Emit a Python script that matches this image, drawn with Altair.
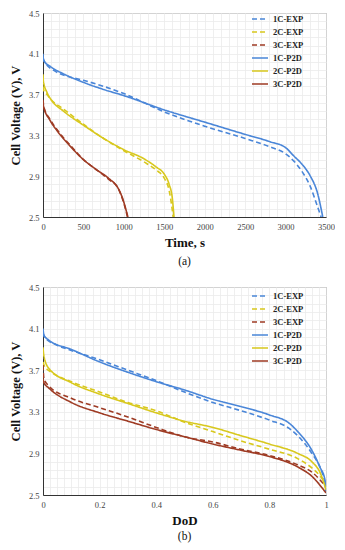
import altair as alt
import pandas as pd

FONT = "Liberation Serif"

series_names = ["1C-EXP", "2C-EXP", "3C-EXP", "1C-P2D", "2C-P2D", "3C-P2D"]
series_colors = ["#4a86d8", "#d8c81e", "#9e3b24", "#4a86d8", "#d8c81e", "#9e3b24"]

# ---- Panel (a): voltage vs time ----
t_1c_exp = [0, 20, 150, 300, 500, 1000, 1500, 2000, 2500, 2800, 3000, 3100, 3200, 3300, 3400, 3440]
v_1c_exp = [4.06, 4.02, 3.93, 3.88, 3.84, 3.71, 3.53, 3.39, 3.27, 3.19, 3.12, 3.05, 2.95, 2.81, 2.59, 2.50]
t_2c_exp = [0, 10, 50, 100, 250, 500, 750, 1000, 1250, 1400, 1500, 1560, 1590, 1610]
v_2c_exp = [3.78, 3.74, 3.70, 3.65, 3.56, 3.41, 3.27, 3.15, 3.04, 2.96, 2.88, 2.76, 2.62, 2.50]
t_3c_exp = [0, 10, 85, 170, 250, 330, 490, 650, 810, 930, 990, 1030, 1045]
v_3c_exp = [3.65, 3.58, 3.46, 3.36, 3.28, 3.21, 3.07, 2.97, 2.87, 2.78, 2.66, 2.55, 2.50]
t_1c_p2d = [0, 5, 100, 250, 500, 750, 1000, 1500, 2000, 2500, 2800, 3000, 3100, 3200, 3300, 3400, 3460]
v_1c_p2d = [4.10, 4.04, 3.97, 3.905, 3.82, 3.75, 3.69, 3.55, 3.43, 3.31, 3.24, 3.18, 3.10, 3.02, 2.91, 2.72, 2.50]
t_2c_p2d = [0, 5, 50, 100, 250, 500, 750, 1000, 1250, 1400, 1500, 1560, 1600, 1620]
v_2c_p2d = [3.90, 3.83, 3.72, 3.65, 3.54, 3.40, 3.27, 3.16, 3.07, 2.99, 2.92, 2.82, 2.68, 2.50]
t_3c_p2d = [0, 5, 85, 170, 330, 490, 650, 810, 930, 990, 1030, 1050]
v_3c_p2d = [3.62, 3.59, 3.45, 3.35, 3.20, 3.07, 2.97, 2.88, 2.78, 2.67, 2.56, 2.50]

# ---- Panel (b): voltage vs DoD ----
d_1c_exp = [0, 0.005, 0.05, 0.1, 0.2, 0.3, 0.4, 0.5, 0.6, 0.7, 0.8, 0.87, 0.9, 0.95, 0.98, 1.0]
w_1c_exp = [4.06, 4.02, 3.94, 3.89, 3.80, 3.70, 3.60, 3.49, 3.39, 3.31, 3.22, 3.14, 3.07, 2.90, 2.76, 2.60]
d_2c_exp = [0, 0.005, 0.03, 0.1, 0.2, 0.3, 0.4, 0.5, 0.6, 0.7, 0.8, 0.9, 0.95, 0.98, 1.0]
w_2c_exp = [3.78, 3.74, 3.68, 3.59, 3.49, 3.39, 3.31, 3.20, 3.11, 3.02, 2.94, 2.85, 2.76, 2.68, 2.60]
d_3c_exp = [0, 0.003, 0.02, 0.1, 0.2, 0.3, 0.4, 0.5, 0.6, 0.7, 0.8, 0.9, 0.95, 1.0]
w_3c_exp = [3.75, 3.62, 3.55, 3.43, 3.34, 3.25, 3.15, 3.06, 3.01, 2.94, 2.88, 2.79, 2.72, 2.58]
d_1c_p2d = [0, 0.003, 0.02, 0.1, 0.2, 0.3, 0.4, 0.5, 0.6, 0.7, 0.8, 0.87, 0.9, 0.95, 0.98, 0.995, 1.0]
w_1c_p2d = [4.10, 4.04, 3.99, 3.90, 3.78, 3.68, 3.59, 3.51, 3.42, 3.35, 3.27, 3.19, 3.11, 2.93, 2.76, 2.66, 2.52]
d_2c_p2d = [0, 0.003, 0.02, 0.1, 0.2, 0.3, 0.4, 0.5, 0.6, 0.7, 0.8, 0.9, 0.95, 0.98, 1.0]
w_2c_p2d = [3.92, 3.84, 3.72, 3.58, 3.47, 3.38, 3.29, 3.21, 3.15, 3.07, 2.99, 2.90, 2.82, 2.71, 2.55]
d_3c_p2d = [0, 0.003, 0.02, 0.1, 0.2, 0.3, 0.4, 0.5, 0.6, 0.7, 0.8, 0.9, 0.95, 1.0]
w_3c_p2d = [3.62, 3.58, 3.53, 3.39, 3.29, 3.21, 3.13, 3.06, 2.99, 2.93, 2.87, 2.77, 2.68, 2.52]

x_ticks_a = list(range(0, 3501, 100))
x_ticks_b = [round(i * 0.025, 3) for i in range(41)]
y_ticks = [round(2.5 + i * 0.08, 2) for i in range(26)]


def frame(pairs):
    rows = []
    for name, xs, ys in pairs:
        for i, (x, y) in enumerate(zip(xs, ys)):
            rows.append({"series": name, "x": x, "v": y, "i": i})
    return pd.DataFrame(rows)


df_a = frame([
    ("1C-EXP", t_1c_exp, v_1c_exp), ("2C-EXP", t_2c_exp, v_2c_exp), ("3C-EXP", t_3c_exp, v_3c_exp),
    ("1C-P2D", t_1c_p2d, v_1c_p2d), ("2C-P2D", t_2c_p2d, v_2c_p2d), ("3C-P2D", t_3c_p2d, v_3c_p2d),
])
df_b = frame([
    ("1C-EXP", d_1c_exp, w_1c_exp), ("2C-EXP", d_2c_exp, w_2c_exp), ("3C-EXP", d_3c_exp, w_3c_exp),
    ("1C-P2D", d_1c_p2d, w_1c_p2d), ("2C-P2D", d_2c_p2d, w_2c_p2d), ("3C-P2D", d_3c_p2d, w_3c_p2d),
])

W = 283

y_axis = alt.Axis(
    values=y_ticks, title="Cell Voltage (V), V",
    labelExpr="round((datum.value-2.5)/0.08) % 5 == 0 ? toString(round(datum.value*10)/10) : ''",
    ticks=False, labelOverlap=False, minExtent=20, maxExtent=20, titlePadding=1,
    labelPadding=4,
)


def panel(df, xdom, xvals, xlabel_expr, xtitle, tag, h, tag_off, legend_y):
    legend = alt.Legend(
        title=None, orient="none", legendX=W - 72, legendY=legend_y,
        symbolType="M-1.6,0H1.6", symbolSize=100, symbolStrokeWidth=1.6,
        symbolFillColor="transparent",
        labelFont=FONT, labelFontSize=8.5, labelFontWeight="bold", labelColor="#222",
        rowPadding=2, labelOffset=7, padding=0,
    )
    lines = alt.Chart(df).mark_line(strokeWidth=1.6, interpolate="monotone", clip=True).encode(
        x=alt.X("x:Q", scale=alt.Scale(domain=xdom, nice=False, zero=False),
                axis=alt.Axis(values=xvals, labelExpr=xlabel_expr, title=xtitle, ticks=False,
                              labelOverlap=False, labelFlush=False, titlePadding=6, labelPadding=5)),
        y=alt.Y("v:Q", scale=alt.Scale(domain=[2.5, 4.5], nice=False, zero=False), axis=y_axis),
        color=alt.Color("series:N", sort=series_names,
                        scale=alt.Scale(domain=series_names, range=series_colors), legend=legend),
        strokeDash=alt.StrokeDash("series:N", sort=series_names,
                                  scale=alt.Scale(domain=series_names,
                                                  range=[[5, 3], [5, 3], [5, 3], [1, 0], [1, 0], [1, 0]]),
                                  legend=legend),
        order=alt.Order("i:Q"),
    )
    label = alt.Chart(pd.DataFrame({"t": [tag]})).mark_text(
        font=FONT, fontSize=11.5, color="#111", baseline="middle"
    ).encode(text="t:N", x=alt.value(W / 2), y=alt.value(h + tag_off))
    return alt.layer(lines, label).properties(width=W, height=h)


top = panel(df_a, [0, 3500], x_ticks_a,
            "datum.value % 500 == 0 ? toString(datum.value) : ''",
            "Time, s", "(a)", 204, 45, 0)
bottom = panel(df_b, [0, 1], x_ticks_b,
               "round(datum.value*1000) % 200 == 0 ? toString(round(datum.value*10)/10) : ''",
               "DoD", "(b)", 208, 42, 3)

chart = alt.vconcat(top, bottom, spacing=70, bounds="flush").resolve_scale(
    color="independent", strokeDash="independent"
).properties(padding={"left": 0, "top": 0, "right": 0, "bottom": 0}).configure_view(
    stroke="#777", strokeWidth=1
).configure_axis(
    labelFont=FONT, titleFont=FONT, labelFontSize=8.5, labelColor="#444",
    titleFontSize=12.5, titleFontWeight="bold", titleColor="#111",
    gridColor="#ebebeb", gridWidth=0.8, domainColor="#333", domainWidth=1,
).configure_axisX(titleFontSize=13)

chart.save("out.html", embed_options={"renderer": "svg", "actions": False})
